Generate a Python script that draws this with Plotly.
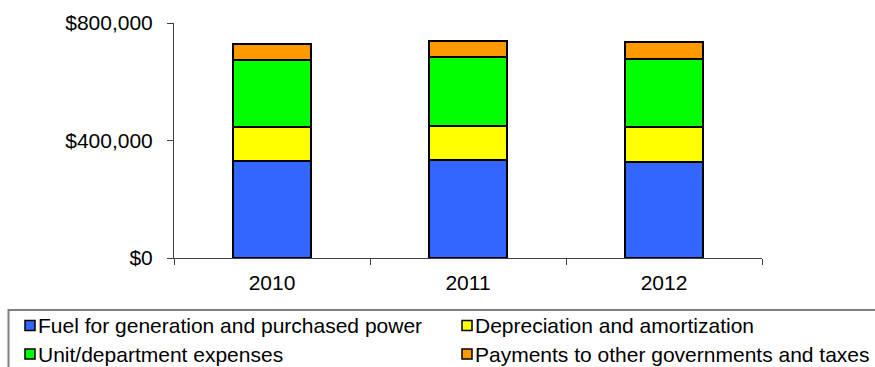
import plotly.graph_objects as go

# Operating expenses by year (dollars)
years = ["2010", "2011", "2012"]
fuel_power = [329000, 333000, 326000]
depreciation = [116000, 118000, 119000]
unit_expenses = [228000, 234000, 233000]
payments_taxes = [57000, 53000, 58000]

series_names = [
    "Fuel for generation and purchased power",
    "Depreciation and amortization",
    "Unit/department expenses",
    "Payments to other governments and taxes",
]
series_values = [fuel_power, depreciation, unit_expenses, payments_taxes]
series_colors = ["#3366FF", "#FFFF00", "#00FF00", "#FF9900"]

y_ticks = [0, 400000, 800000]
y_tick_labels = ["$0", "$400,000", "$800,000"]

FONT = "Liberation Sans, Arial, sans-serif"
W, H = 875, 367
L, R, T, B = 174, 113, 23, 109
PW, PH = W - L - R, H - T - B


def px_x(px):
    return (px - L) / PW


def px_y(py):
    return (H - B - py) / PH


fig = go.Figure()
for name, vals, color in zip(series_names, series_values, series_colors):
    fig.add_trace(go.Bar(
        x=years, y=vals, name=name,
        marker=dict(color=color, line=dict(color="black", width=2)),
        showlegend=False,
    ))

# Legend box drawn as a framed panel below the axes
shapes = [dict(
    type="rect", xref="paper", yref="paper",
    x0=px_x(8.5), x1=px_x(890), y0=px_y(400), y1=px_y(310),
    line=dict(color="#7f7f7f", width=2), fillcolor="white", layer="below",
)]
annotations = []
legend_pos = [(30, 325.5), (467, 325.5), (30, 354), (467, 354)]
for idx, (cx, cy) in enumerate(legend_pos):
    shapes.append(dict(
        type="rect", xref="paper", yref="paper",
        x0=px_x(cx - 5), x1=px_x(cx + 5), y0=px_y(cy + 5), y1=px_y(cy - 5),
        line=dict(color="black", width=1.5), fillcolor=series_colors[idx],
    ))
    annotations.append(dict(
        xref="paper", yref="paper", x=px_x(cx + 6), y=px_y(cy),
        xanchor="left", yanchor="middle", showarrow=False,
        text=series_names[idx], font=dict(family=FONT, size=21, color="black"),
    ))

fig.update_layout(
    width=W, height=H,
    margin=dict(l=L, r=R, t=T, b=B, pad=0),
    paper_bgcolor="white", plot_bgcolor="white",
    barmode="stack", bargap=0.6,
    font=dict(family=FONT, size=20, color="black"),
    shapes=shapes, annotations=annotations,
    showlegend=False,
)
fig.update_xaxes(
    type="category", showline=True, linecolor="#404040", linewidth=1,
    ticks="outside", tickson="boundaries", ticklen=6, tickcolor="#404040",
    showgrid=False, zeroline=False, ticklabelstandoff=6,
    tickfont=dict(family=FONT, size=21),
)
fig.update_yaxes(
    range=[0, 800000], tickvals=y_ticks, ticktext=y_tick_labels,
    showline=True, linecolor="#404040", linewidth=1,
    ticks="outside", ticklen=6, tickcolor="#404040",
    showgrid=False, zeroline=False, ticklabelstandoff=10,
    tickfont=dict(family=FONT, size=21),
)

fig.write_html("out.html")
